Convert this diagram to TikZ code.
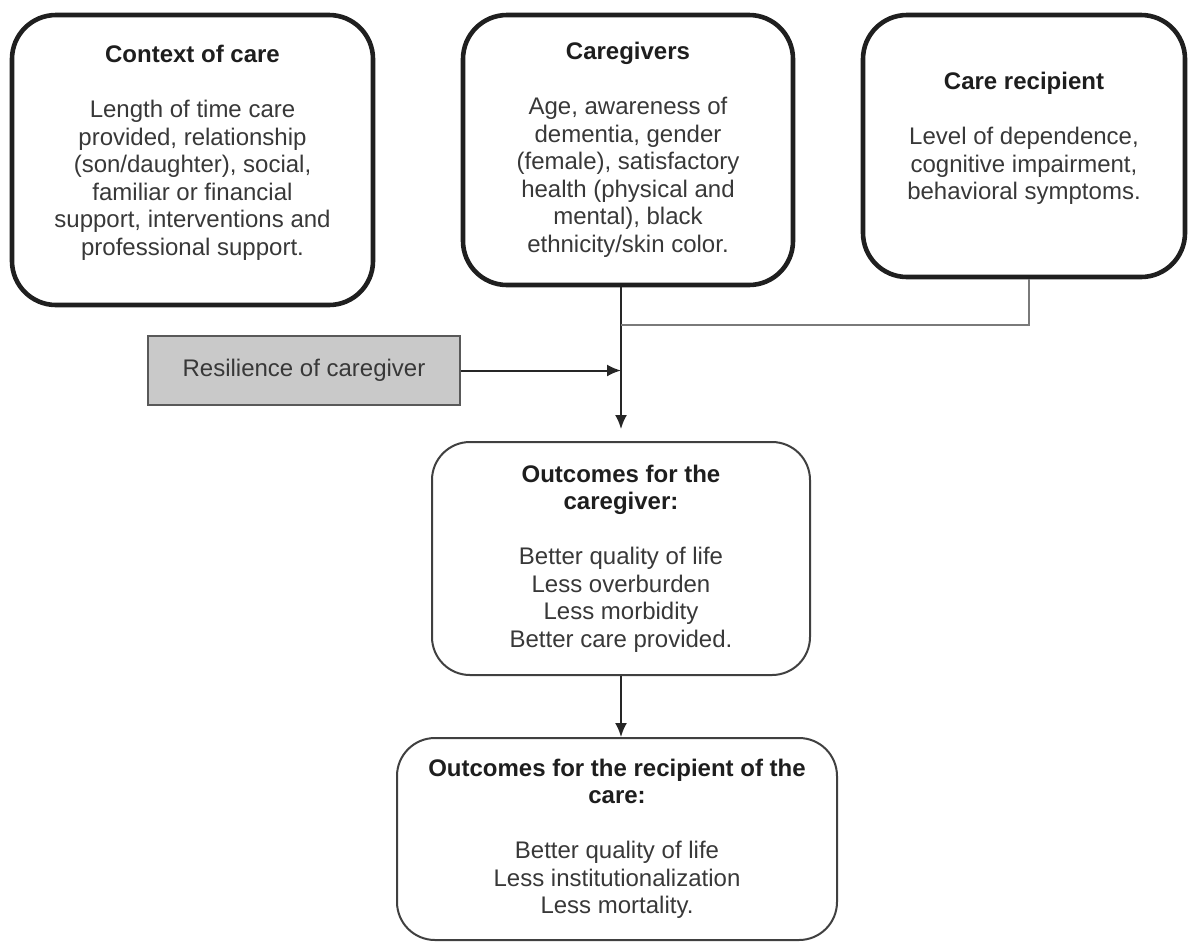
\documentclass[tikz,border=0pt]{standalone}
\usepackage{fontspec}
\setmainfont{Liberation Sans}
\usetikzlibrary{arrows.meta,calc}
\definecolor{txtc}{HTML}{383838}
\definecolor{ttlc}{HTML}{1E1E1E}
\definecolor{boxgray}{HTML}{C9C9C9}
\definecolor{linegray}{HTML}{7A7A7A}
\newcommand{\boxtitle}[1]{\textbf{\color{ttlc}#1}}
\begin{document}
\begin{tikzpicture}[x=0.5pt,y=-0.5pt,
  every node/.style={font=\fontsize{12}{13.75}\selectfont, text=txtc, align=center, inner sep=0pt},
  thickbox/.style={draw=black!88, line width=2.3pt, rounded corners=22pt},
  thinbox/.style={draw=black!75, line width=1pt, rounded corners=19pt},
  greybox/.style={draw=black!65, fill=boxgray, line width=0.9pt},
  conn/.style={draw=black!85, line width=1pt, -{Latex[length=7pt,width=6pt]}},
  plainconn/.style={draw=linegray, line width=0.9pt}
]
\useasboundingbox (0,0) rectangle (1189,944);

\node[thickbox, minimum width=180.5pt, minimum height=145pt] (ctx) at (192.5,160)
  {\boxtitle{Context of care}\\[13.75pt]
   Length of time care\\ provided, relationship\\ (son/daughter), social,\\
   familiar or financial\\ support, interventions and\\ professional support.\\[-4pt]\mbox{}};

\node[thickbox, minimum width=165pt, minimum height=135pt] (cg) at (628,150)
  {\boxtitle{Caregivers}\\[13.75pt]
   Age, awareness of\\ dementia, gender\\ (female), satisfactory\\
   health (physical and\\ mental), black\\ ethnicity/skin color.};

\node[thickbox, minimum width=161pt, minimum height=131pt] (cr) at (1024,146)
  {\boxtitle{Care recipient}\\[13.75pt]
   Level of dependence,\\ cognitive impairment,\\ behavioral symptoms.\\[-4pt]\mbox{}};

\node[greybox, minimum width=156pt, minimum height=34.5pt] (res) at (304,370.5)
  {Resilience of caregiver};

\node[thinbox, minimum width=189pt, minimum height=116.5pt] (oc) at (621,558.5)
  {\boxtitle{Outcomes for the}\\ \boxtitle{caregiver:}\\[13.75pt]
   Better quality of life\\ Less overburden\\ Less morbidity\\ Better care provided.};

\node[thinbox, minimum width=220pt, minimum height=101pt] (or) at (617,839)
  {\boxtitle{Outcomes for the recipient of the}\\ \boxtitle{care:}\\[13.75pt]
   Better quality of life\\ Less institutionalization\\ Less mortality.};

\coordinate (jn) at (621,325);

\draw[conn, shorten >=6pt] (jn |- cg.south) -- (jn |- oc.north);
\draw[plainconn] ($(cr.south)+(5,0)$) |- (jn);
\draw[conn] (res.east) -- (res.east -| jn);
\draw[conn] (jn |- oc.south) -- (jn |- or.north);
\end{tikzpicture}
\end{document}
